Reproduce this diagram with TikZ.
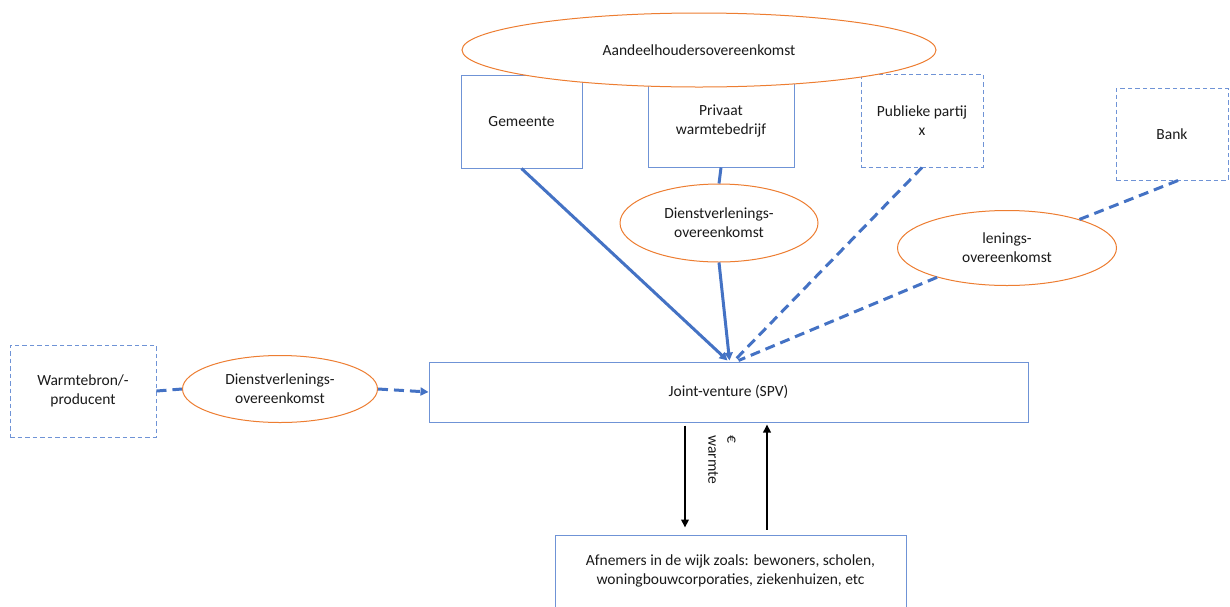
\documentclass[tikz,border=0pt]{standalone}
\usepackage{fontspec}
\setmainfont{Carlito}
\usetikzlibrary{shapes.geometric,arrows.meta}
\definecolor{lblue}{HTML}{4472C4}
\definecolor{bblue}{HTML}{6F93D6}
\definecolor{orng}{HTML}{ED7D31}
\definecolor{txt}{HTML}{1A1A1A}
\tikzset{
  box/.style={draw=bblue, line width=1pt, fill=white, align=center, inner sep=0pt, text=txt},
  dbox/.style={box, dash pattern=on 4.5pt off 3pt},
  ell/.style={ellipse, draw=orng, line width=1pt, fill=white, align=center, inner sep=0pt, text=txt},
  conn/.style={draw=lblue, line width=3pt},
  dconn/.style={conn, dash pattern=on 10pt off 6pt},
  btip/.style={-{Triangle[length=8pt,width=8pt]}},
  karrow/.style={draw=black, line width=2.6pt, -{Triangle[length=8pt,width=7.5pt]}}
}
\begin{document}
\begin{tikzpicture}[x=1pt,y=-1pt,font=\fontsize{15.5}{19}\selectfont]
\useasboundingbox (0,0) rectangle (1230,606);
% boxes
\node[box, minimum width=121pt, minimum height=93pt] (gem) at (521.5,121.5) {Gemeente};
\node[box, minimum width=146pt, minimum height=92pt] (priv) at (721,121) {Privaat\\warmtebedrijf};
\node[dbox, minimum width=122pt, minimum height=93pt] (pub) at (922,120.5) {Publieke partij\\x};
\node[dbox, minimum width=112pt, minimum height=92pt] (bank) at (1172,134) {Bank};
\node[dbox, minimum width=146pt, minimum height=92pt] (wb) at (83,391) {Warmtebron/-\\producent};
\node[box, minimum width=599pt, minimum height=60pt] (jv) at (728.5,392) {Joint-venture (SPV)};
\node[box, minimum width=351pt, minimum height=72pt] (afn) at (730.5,571) {Afnemers in de wijk zoals: bewoners, scholen,\\woningbouwcorporaties, ziekenhuizen, etc};
% ellipses
\node[ell, minimum width=474pt, minimum height=74pt] (aho) at (699,50) {Aandeelhoudersovereenkomst};
\node[ell, minimum width=198pt, minimum height=78pt] (dv1) at (719,223) {Dienstverlenings-\\overeenkomst};
\node[ell, minimum width=219pt, minimum height=75pt] (len) at (1007,248) {lenings-\\overeenkomst};
\node[ell, minimum width=195pt, minimum height=67pt] (dv2) at (280,389) {Dienstverlenings-\\overeenkomst};
% connectors
\draw[conn, btip] (gem.south) -- ([xshift=-1pt,yshift=1pt]jv.north);
\draw[conn] (priv.south) -- (dv1.north);
\draw[conn, btip] (dv1.south) -- ([xshift=1pt,yshift=1pt]jv.north);
\draw[dconn] (pub.south) -- ([xshift=6pt,yshift=1pt]jv.north);
\draw[dconn] ([xshift=6pt]bank.south) -- (len);
\draw[dconn] (len) -- ([xshift=10pt,yshift=1pt]jv.north);
\draw[dconn] (wb.east) -- (dv2.west);
\draw[dconn, btip] (dv2.east) -- (jv.west);
% money / heat
\draw[karrow] ([xshift=-43.5pt,yshift=-3pt]jv.south) -- ([xshift=-45.5pt,yshift=7pt]afn.north);
\draw[karrow] ([xshift=36.5pt,yshift=5pt]afn.north) -- ([xshift=38.5pt,yshift=-2pt]jv.south);
\node[rotate=-90, align=left, inner sep=0pt, text=txt] (lab) at (722,460) {€\\warmte};
\end{tikzpicture}
\end{document}
